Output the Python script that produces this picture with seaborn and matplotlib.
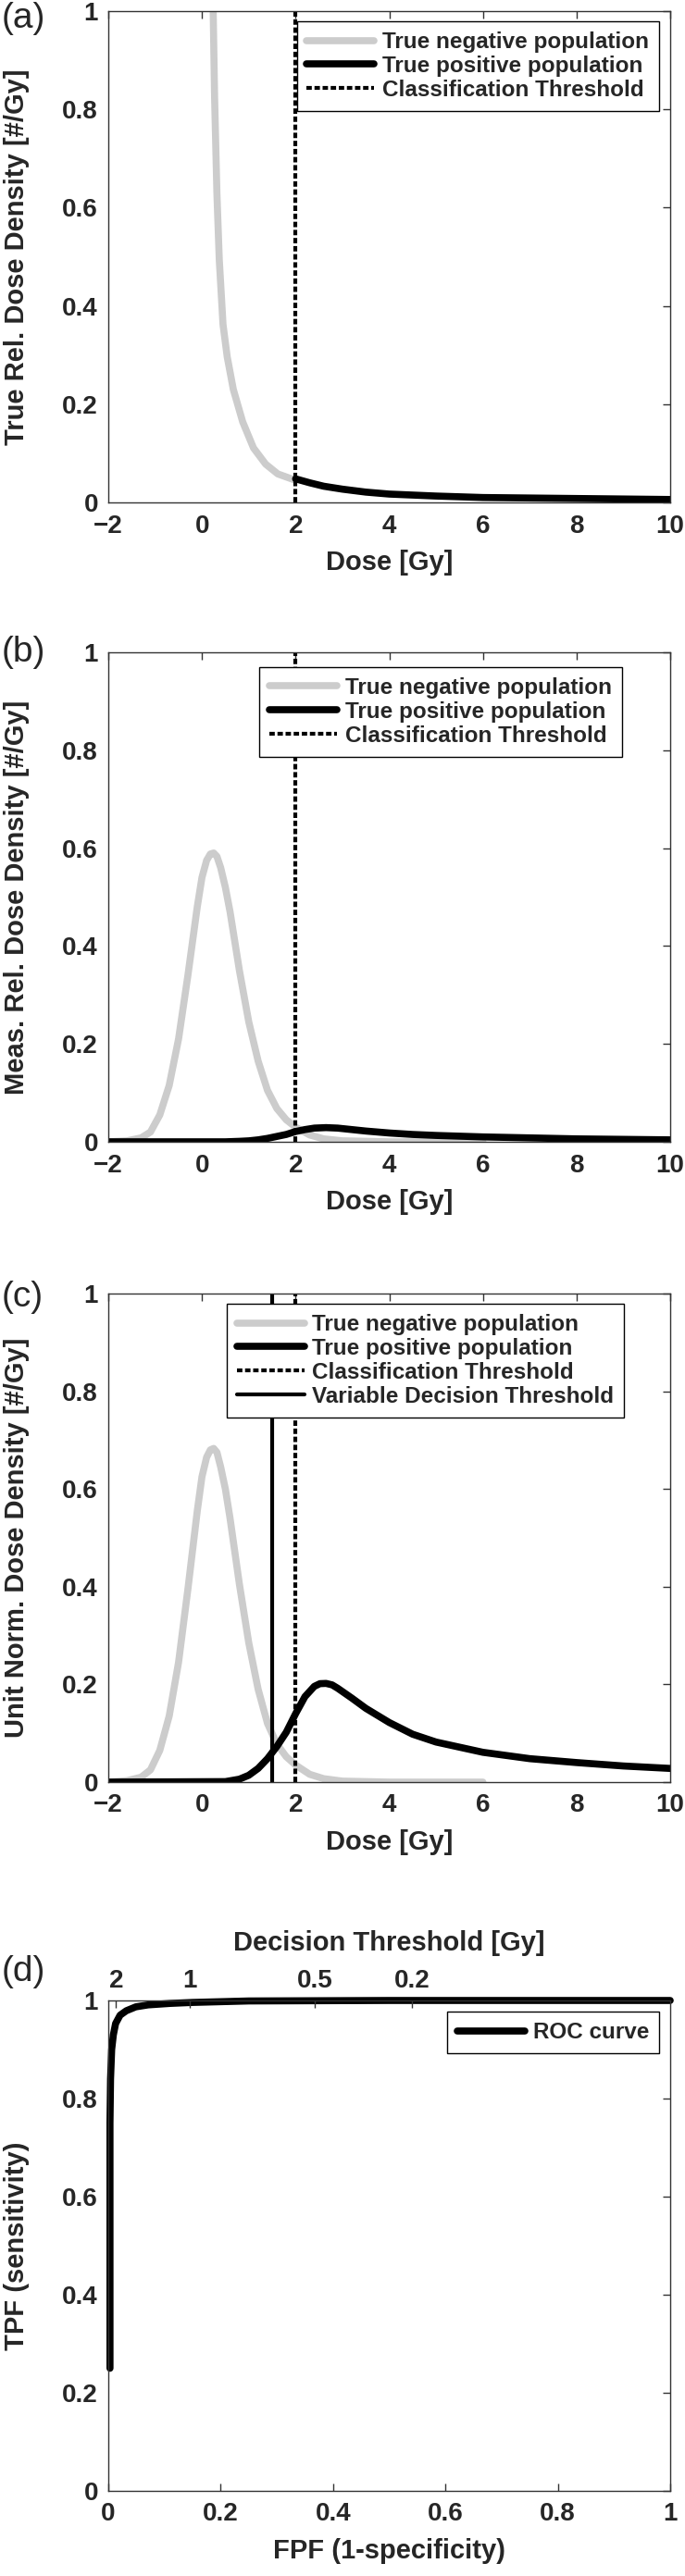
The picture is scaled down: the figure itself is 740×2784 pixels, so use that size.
import matplotlib
matplotlib.use("Agg")
import matplotlib.pyplot as plt
import seaborn as sns

# ---- data ----
# (a) true dose densities
dose_neg_a = [0.24, 0.27, 0.32, 0.37, 0.45, 0.54, 0.67, 0.87, 1.10, 1.36, 1.62, 2.0]
dens_neg_a = [1.0, 0.825, 0.627, 0.494, 0.362, 0.296, 0.23, 0.164, 0.111, 0.078, 0.058, 0.045]
dose_pos_a = [2.0, 2.3, 2.6, 3.0, 3.5, 4.0, 5.0, 6.0, 7.0, 8.0, 9.0, 10.0]
dens_pos_a = [0.048, 0.040, 0.033, 0.027, 0.021, 0.017, 0.013, 0.010, 0.009, 0.008, 0.007, 0.006]

# (b) measured dose densities
dose_neg_b = [-2, -1.6, -1.3, -1.1, -0.9, -0.7, -0.5, -0.3, -0.1, 0.0, 0.1, 0.18, 0.25, 0.32, 0.4,
              0.5, 0.6, 0.8, 1.0, 1.2, 1.4, 1.6, 1.8, 2.0, 2.3, 2.6, 3.0, 4.0, 6.0]
dens_neg_b = [0.0, 0.002, 0.008, 0.02, 0.055, 0.115, 0.21, 0.34, 0.48, 0.54, 0.575, 0.588, 0.59, 0.583,
              0.56, 0.52, 0.47, 0.35, 0.245, 0.165, 0.105, 0.068, 0.045, 0.03, 0.014, 0.006, 0.002,
              0.0, 0.0]
dose_pos_b = [-2, 0.5, 0.8, 1.0, 1.2, 1.4, 1.6, 1.8, 2.0, 2.2, 2.4, 2.65, 2.9, 3.2, 3.5,
              4.0, 4.5, 5.0, 6.0, 7.0, 8.0, 9.0, 10.0]
dens_pos_b = [0.0, 0.0, 0.001, 0.002, 0.004, 0.007, 0.011, 0.015, 0.021, 0.025, 0.028, 0.029, 0.028,
              0.025, 0.022, 0.018, 0.015, 0.013, 0.010, 0.008, 0.006, 0.005, 0.004]

# (c) unit normalised densities
dose_neg_c = [-2, -1.6, -1.3, -1.1, -0.9, -0.7, -0.5, -0.3, -0.1, 0.0, 0.1, 0.18, 0.25, 0.32, 0.4,
              0.5, 0.6, 0.8, 1.0, 1.2, 1.4, 1.6, 1.8, 2.0, 2.3, 2.6, 3.0, 4.0, 6.0]
dens_neg_c = [0.0, 0.003, 0.01, 0.025, 0.065, 0.135, 0.245, 0.395, 0.555, 0.625, 0.665, 0.68, 0.683,
              0.675, 0.645, 0.60, 0.54, 0.405, 0.285, 0.19, 0.12, 0.078, 0.052, 0.035, 0.016, 0.007,
              0.002, 0.0, 0.0]
dose_pos_c = [-2, 0.5, 0.8, 1.0, 1.2, 1.4, 1.6, 1.8, 2.0, 2.2, 2.4, 2.52, 2.65, 2.78, 2.9, 3.2, 3.5,
              4.0, 4.5, 5.0, 6.0, 7.0, 8.0, 9.0, 10.0]
dens_pos_c = [0.0, 0.001, 0.006, 0.014, 0.028, 0.048, 0.073, 0.102, 0.14, 0.175, 0.196, 0.2015, 0.202,
              0.199, 0.192, 0.172, 0.151, 0.122, 0.098, 0.082, 0.061, 0.048, 0.040, 0.033, 0.028]

class_threshold = 2.0
decision_threshold = 1.5

# (d) ROC curve
fpf = [0.003, 0.003, 0.004, 0.006, 0.009, 0.013, 0.021, 0.032, 0.049, 0.071, 0.11, 0.15, 0.25, 0.5, 1.0]
tpf = [0.25, 0.75, 0.84, 0.90, 0.93, 0.953, 0.970, 0.979, 0.987, 0.991, 0.994, 0.996, 0.999, 1.0, 1.0]
thr_pos = [0.014, 0.145, 0.368, 0.541]
thr_labels = ["2", "1", "0.5", "0.2"]

dose_ticks = [-2, 0, 2, 4, 6, 8, 10]
dose_tick_labels = ["\u22122", "0", "2", "4", "6", "8", "10"]
frac_ticks = [0, 0.2, 0.4, 0.6, 0.8, 1.0]
frac_tick_labels = ["0", "0.2", "0.4", "0.6", "0.8", "1"]

# ---- style ----
sns.set_style("white")
plt.rcParams['font.family'] = ['Liberation Sans', 'DejaVu Sans']
plt.rcParams['font.weight'] = 'bold'
plt.rcParams['axes.labelweight'] = 'bold'

GRAY = "#cccccc"
LW = 5.5
THR_LW = 3.0
TICK_FS = 20
LABEL_FS = 21
LEG_FS = 17.5

W, H = 740, 2784
fig = plt.figure(figsize=(W / 100, H / 100), dpi=100)


def make_axes(top, bottom):
    return fig.add_axes([117 / W, 1 - bottom / H, 607 / W, (bottom - top) / H])


def style_axes(ax):
    for s in ax.spines.values():
        s.set_color("#333333")
        s.set_linewidth(1.0)
    ax.tick_params(direction="in", length=6, width=1, color="#333333",
                   top=True, right=True, labelsize=TICK_FS)
    ax.tick_params(axis="x", pad=9)
    ax.tick_params(axis="y", pad=8)


def legend(ax, anchor):
    leg = ax.legend(loc="upper right", bbox_to_anchor=anchor, borderaxespad=0,
                    fontsize=LEG_FS, frameon=True, fancybox=False, framealpha=1,
                    edgecolor="black", handlelength=3.0, handletextpad=0.35,
                    labelspacing=0.12, borderpad=0.45)
    leg.get_frame().set_linewidth(1.0)
    return leg


def dose_panel(ax, xn, yn, xp, yp, ylabel, variable=False):
    sns.lineplot(x=xn, y=yn, ax=ax, color=GRAY, lw=LW, estimator=None,
                 label="True negative population")
    sns.lineplot(x=xp, y=yp, ax=ax, color="black", lw=LW, estimator=None,
                 label="True positive population")
    ax.axvline(class_threshold, color="black", lw=THR_LW, linestyle=(0, (1.4, 0.7)),
               label="Classification Threshold")
    if variable:
        ax.axvline(decision_threshold, color="black", lw=THR_LW,
                   label="Variable Decision Threshold")
    ax.set_xlim(-2, 10)
    ax.set_ylim(0, 1)
    ax.set_xticks(dose_ticks)
    ax.set_xticklabels(dose_tick_labels)
    ax.set_yticks(frac_ticks)
    ax.set_yticklabels(frac_tick_labels)
    ax.set_xlabel("Dose [Gy]", fontsize=LABEL_FS, labelpad=9)
    ax.set_ylabel(ylabel, fontsize=LABEL_FS, va="center")
    ax.yaxis.set_label_coords(-0.163, 0.5)
    style_axes(ax)


# (a)
ax_a = make_axes(12, 543)
dose_panel(ax_a, dose_neg_a, dens_neg_a, dose_pos_a, dens_pos_a,
           "True Rel. Dose Density [#/Gy]")
legend(ax_a, (0.980, 0.979))

# (b)
ax_b = make_axes(705, 1234)
dose_panel(ax_b, dose_neg_b, dens_neg_b, dose_pos_b, dens_pos_b,
           "Meas. Rel. Dose Density [#/Gy]")
legend(ax_b, (0.914, 0.970))

# (c)
ax_c = make_axes(1398, 1926)
dose_panel(ax_c, dose_neg_c, dens_neg_c, dose_pos_c, dens_pos_c,
           "Unit Norm. Dose Density [#/Gy]", variable=True)
legend(ax_c, (0.918, 0.979))

# (d) ROC
ax_d = make_axes(2162, 2692)
sns.lineplot(x=fpf, y=tpf, ax=ax_d, color="black", lw=LW, estimator=None,
             sort=False, label="ROC curve")
ax_d.set_xlim(0, 1)
ax_d.set_ylim(0, 1)
ax_d.set_xticks(frac_ticks)
ax_d.set_xticklabels(frac_tick_labels)
ax_d.set_yticks(frac_ticks)
ax_d.set_yticklabels(frac_tick_labels)
ax_d.set_xlabel("FPF (1-specificity)", fontsize=LABEL_FS, labelpad=9)
ax_d.set_ylabel("TPF (sensitivity)", fontsize=LABEL_FS, va="center")
ax_d.yaxis.set_label_coords(-0.163, 0.5)
style_axes(ax_d)
for line in ax_d.lines:
    line.set_clip_on(False)
legend(ax_d, (0.980, 0.977))

ax_top = ax_d.twiny()
ax_top.set_xlim(0, 1)
ax_top.set_xticks(thr_pos)
ax_top.set_xticklabels(thr_labels)
ax_top.tick_params(axis="x", direction="in", length=6, width=1, color="#333333",
                   top=True, bottom=False, labelsize=TICK_FS, pad=6)
ax_top.set_xlabel("Decision Threshold [Gy]", fontsize=LABEL_FS, labelpad=14)
for s in ax_top.spines.values():
    s.set_visible(False)

# panel letters
for letter, ypx in [("(a)", 20), ("(b)", 705), ("(c)", 1402), ("(d)", 2131)]:
    fig.text(2 / W, 1 - ypx / H, letter, fontsize=28, fontweight="normal",
             ha="left", va="center")

fig.savefig("out.png", dpi=100)
